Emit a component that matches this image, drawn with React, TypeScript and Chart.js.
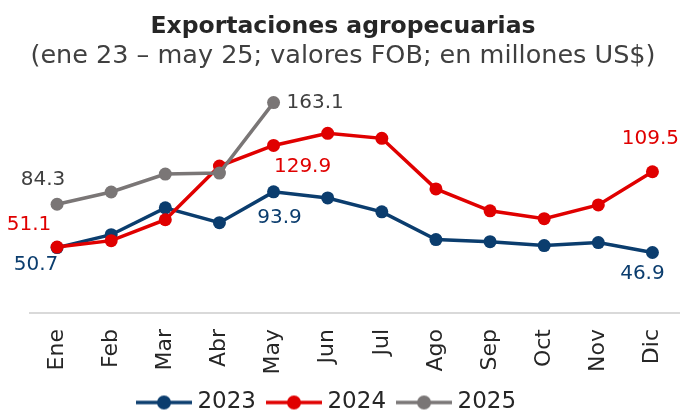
import React, { useEffect, useRef } from "react";
import { Chart, registerables } from "chart.js";

Chart.register(...registerables);

const months = ["Ene", "Feb", "Mar", "Abr", "May", "Jun", "Jul", "Ago", "Sep", "Oct", "Nov", "Dic"];
const values2023 = [50.7, 60.7, 81.5, 70.0, 93.9, 89.2, 78.4, 56.9, 55.3, 52.3, 54.6, 46.9];
const values2024 = [51.1, 56.1, 72.3, 113.9, 129.9, 139.3, 135.4, 96.2, 79.2, 73.1, 83.8, 109.5];
const values2025 = [84.3, 93.8, 107.7, 108.5, 163.1];
const seriesNames = ["2023", "2024", "2025"];

const COLORS = ["#0b3d6e", "#e00000", "#7a7676"];
const LABEL_COLORS = ["#0b3d6e", "#e00000", "#404040"];
const FONT = "'DejaVu Sans', sans-serif";

// which points get value labels, and where they sit relative to the point
const labelSpots = [
  { ds: 0, i: 0, dx: -21, dy: 17, align: "center" },
  { ds: 0, i: 4, dx: 6, dy: 26, align: "center" },
  { ds: 0, i: 11, dx: -10, dy: 21, align: "center" },
  { ds: 1, i: 0, dx: -28, dy: -22, align: "center" },
  { ds: 1, i: 4, dx: 29, dy: 21, align: "center" },
  { ds: 1, i: 11, dx: -2, dy: -33, align: "center" },
  { ds: 2, i: 0, dx: -14, dy: -24, align: "center" },
  { ds: 2, i: 4, dx: 13, dy: 0, align: "left" },
];

function legendIcon(color: string) {
  const c = document.createElement("canvas");
  c.width = 56;
  c.height = 18;
  const g = c.getContext("2d")!;
  g.strokeStyle = color;
  g.lineWidth = 3.5;
  g.beginPath();
  g.moveTo(0, 9);
  g.lineTo(56, 9);
  g.stroke();
  g.fillStyle = color;
  g.beginPath();
  g.arc(28, 9, 7, 0, Math.PI * 2);
  g.fill();
  return c;
}

const valueLabels = {
  id: "valueLabels",
  afterDatasetsDraw(chart: any) {
    const ctx = chart.ctx;
    ctx.save();
    ctx.font = `20px ${FONT}`;
    ctx.textBaseline = "middle";
    for (const s of labelSpots) {
      const meta = chart.getDatasetMeta(s.ds);
      const el = meta.data[s.i];
      if (!el) continue;
      const v = chart.data.datasets[s.ds].data[s.i] as number;
      ctx.fillStyle = LABEL_COLORS[s.ds];
      ctx.textAlign = s.align;
      ctx.fillText(v.toFixed(1), el.x + s.dx, el.y + s.dy);
    }
    ctx.restore();
  },
};

const legendShift = {
  id: "legendShift",
  afterLayout(chart: any) {
    const lg = chart.legend;
    if (lg) {
      lg.top -= 11;
      lg.left -= 14;
      lg.right -= 14;
    }
  },
};

export default function App() {
  const ref = useRef<HTMLCanvasElement>(null);
  useEffect(() => {
    const allData = [values2023, values2024, values2025];
    const chart = new Chart(ref.current!, {
      type: "line",
      data: {
        labels: months,
        datasets: allData.map((d, k) => ({
          label: seriesNames[k],
          data: d,
          borderColor: COLORS[k],
          backgroundColor: COLORS[k],
          pointBackgroundColor: COLORS[k],
          pointBorderWidth: 0,
          pointRadius: 6.5,
          borderWidth: 3.5,
          tension: 0,
          pointStyle: "circle",
          order: k === 2 ? 0 : k === 1 ? 1 : 2,
        })) as any,
      },
      options: {
        responsive: false,
        animation: false,
        layout: { padding: { left: 4, right: 4, top: 0, bottom: 0 } },
        plugins: {
          title: {
            display: true,
            text: "Exportaciones agropecuarias",
            color: "#262626",
            font: { family: FONT, size: 23.5, weight: "bold" },
            padding: { top: 13, bottom: 0 },
          },
          subtitle: {
            display: true,
            text: "(ene 23 – may 25; valores FOB; en millones US$)",
            color: "#404040",
            font: { family: FONT, size: 25.5, weight: "normal" },
            padding: { top: 0, bottom: 9 },
          },
          legend: {
            position: "bottom",
            maxHeight: 24,
            labels: {
              usePointStyle: true,
              pointStyleWidth: 44,
              padding: 16,
              color: "#262626",
              font: { family: FONT, size: 23 },
              generateLabels: (ch: any) =>
                ch.data.datasets.map((ds: any, k: number) => ({
                  text: ds.label,
                  pointStyle: legendIcon(COLORS[k]),
                  fillStyle: COLORS[k],
                  strokeStyle: COLORS[k],
                  lineWidth: 0,
                  datasetIndex: k,
                  hidden: false,
                  fontColor: "#262626",
                })),
            },
          },
          tooltip: { enabled: false },
        },
        scales: {
          x: {
            offset: true,
            grid: { display: false, drawTicks: false },
            border: { display: true, color: "#d9d9d9", width: 2 },
            ticks: {
              color: "#262626",
              font: { family: FONT, size: 22 },
              minRotation: 90,
              maxRotation: 90,
              padding: 16,
            },
            afterFit: (scale: any) => {
              scale.height = 73;
              scale.paddingLeft = 0;
              scale.paddingRight = 0;
            },
          },
          y: {
            display: true,
            min: 0,
            max: 180,
            grid: { display: false, drawTicks: false },
            border: { display: false },
            ticks: { display: false },
            afterFit: (scale: any) => {
              scale.width = 26;
            },
          },
        },
      },
      plugins: [valueLabels, legendShift],
    });
    return () => chart.destroy();
  }, []);
  return (
    <div style={{ position: "absolute", left: 0, top: 0, width: 686, height: 410, background: "#fff" }}>
      <canvas ref={ref} width={686} height={410} />
    </div>
  );
}
